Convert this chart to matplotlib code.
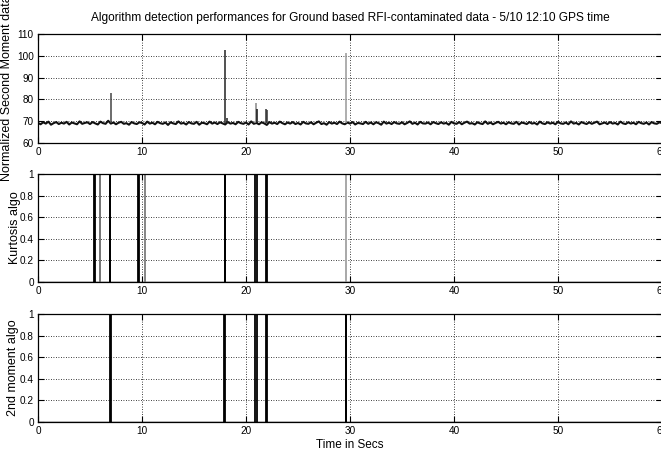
import numpy as np
import matplotlib
matplotlib.use('Agg')
import matplotlib.pyplot as plt

plt.rcParams['font.family'] = ['Liberation Sans', 'DejaVu Sans']

# === data
title = 'Algorithm detection performances for Ground based RFI-contaminated data - 5/10 12:10 GPS time'
ylabels = ['Normalized Second Moment data', 'Kurtosis algo', '2nd moment algo']
xlabel = 'Time in Secs'

# normalized second moment, background samples every 0.25 s (0 .. 60 s)
moment_base = [
    69.2, 68.6, 69.5, 68.9, 69.8, 68.4, 69.1, 69.6, 68.7, 69.3, 68.9, 69.7, 68.5, 69.4, 69.0, 68.6, 69.9, 68.8, 69.2, 69.5,
    68.7, 69.6, 69.0, 68.5, 69.8, 69.1, 68.8, 70.2, 68.9, 69.4, 68.6, 69.3, 69.7, 68.8, 69.1, 68.4, 69.6, 69.0, 68.7, 69.5,
    69.2, 68.5, 69.8, 68.9, 69.3, 68.6, 69.7, 69.1, 68.8, 69.4, 68.3, 69.5, 69.0, 68.7, 69.9, 68.9, 69.2, 68.5, 69.6, 69.0,
    68.8, 69.7, 68.4, 69.3, 69.1, 68.6, 69.8, 68.9, 69.4, 68.7, 69.5, 69.0, 68.5, 69.6, 68.9, 69.2, 68.6, 69.7, 69.1, 68.8,
    69.4, 68.5, 69.9, 68.8, 69.2, 68.6, 69.5, 69.0, 68.3, 69.6, 68.9, 69.3, 68.7, 69.8, 69.1, 68.6, 69.4, 68.9, 69.6, 68.7,
    69.2, 68.5, 69.7, 69.0, 68.8, 69.5, 68.6, 69.3, 69.9, 68.7, 69.1, 68.4, 69.6, 68.9, 69.3, 68.7, 69.8, 69.0, 68.6, 69.4,
    68.9, 69.6, 68.5, 69.2, 69.0, 68.7, 69.7, 68.8, 69.4, 68.6, 69.5, 69.1, 68.4, 69.8, 68.9, 69.3, 68.7, 69.6, 69.0, 68.8,
    69.5, 68.6, 69.2, 69.9, 68.8, 69.3, 68.5, 69.7, 69.0, 68.9, 69.4, 68.6, 69.6, 69.1, 68.7, 69.5, 68.9, 69.2, 68.4, 69.7,
    69.0, 68.8, 69.6, 68.6, 69.3, 69.8, 68.9, 69.1, 68.5, 69.5, 69.0, 68.7, 69.9, 68.8, 69.4, 68.6, 69.2, 69.7, 68.9, 69.3,
    68.6, 69.5, 69.0, 68.8, 69.7, 68.5, 69.4, 69.1, 68.7, 69.6, 68.9, 69.2, 68.5, 69.8, 69.0, 68.7, 69.5, 68.9, 69.3, 68.6,
    69.7, 69.0, 68.8, 69.4, 68.6, 69.9, 68.9, 69.2, 68.5, 69.6, 69.1, 68.7, 69.5, 68.8, 69.3, 69.8, 68.6, 69.0, 69.4, 68.7,
    69.6, 68.9, 69.2, 68.5, 69.8, 69.0, 68.7, 69.5, 68.9, 69.3, 68.6, 69.7, 69.1, 68.8, 69.4, 68.5, 69.6, 69.0, 68.8, 69.5,
    69.1,
]
moment_time = np.linspace(0, 60, len(moment_base))

# RFI spikes in the second moment data
spike_t = [7.0, 18.0, 18.15, 20.95, 21.05, 21.95, 22.02, 29.65]
spike_peak = [83.0, 102.5, 71.5, 78.5, 75.5, 75.5, 75.0, 101.5]
spike_col = ['#444444', '#222222', '#222222', '#888888', '#111111', '#333333', '#333333', '#999999']

# detection flags (pulse start, pulse end) in seconds
kurt_start = [5.42, 5.94, 6.92, 9.66, 10.28, 17.95, 20.90, 21.97, 29.58]
kurt_end = [5.52, 5.98, 6.97, 9.72, 10.32, 18.00, 21.02, 22.02, 29.66]
kurt_col = ['k', '#777777', 'k', 'k', '#888888', 'k', 'k', 'k', '#aaaaaa']

mom_start = [6.90, 17.93, 20.88, 21.97, 29.58]
mom_end = [6.98, 18.00, 21.05, 22.03, 29.66]
mom_col = ['k', 'k', 'k', 'k', 'k']


def style_axes(ax, ylim, yticks):
    ax.set_xlim(0, 60)
    ax.set_ylim(ylim)
    ax.set_xticks([0, 10, 20, 30, 40, 50, 60])
    ax.set_yticks(yticks)
    ax.grid(True, linestyle=(0, (1, 2)), color='k', linewidth=0.6)
    ax.tick_params(direction='in', top=True, right=True, length=4, labelsize=7.2, pad=3)
    for s in ax.spines.values():
        s.set_linewidth(0.9)


def draw_pulses(ax, starts, ends, cols):
    ax.plot([0, 60], [0, 0], color='k', linewidth=1)
    for a, b, c in zip(starts, ends, cols):
        ax.plot([a, a, b, b], [0, 1, 1, 0], color=c, linewidth=1.3)


fig = plt.figure(figsize=(6.61, 4.53), dpi=100)
left, width = 38 / 661, 624 / 661
ax1 = fig.add_axes([left, 1 - 143 / 453, width, 109 / 453])
ax2 = fig.add_axes([left, 1 - 282 / 453, width, 108 / 453])
ax3 = fig.add_axes([left, 1 - 422 / 453, width, 108 / 453])

# top: second moment data
ax1.plot(moment_time, moment_base, color='#111111', linewidth=1.5)
ax1.vlines(spike_t, 69, spike_peak, colors=spike_col, linewidth=1.1)
style_axes(ax1, (60, 110), [60, 70, 80, 90, 100, 110])
ax1.set_title(title, fontsize=8.6, pad=9)

# middle: kurtosis detection
draw_pulses(ax2, kurt_start, kurt_end, kurt_col)
style_axes(ax2, (0, 1), [0, 0.2, 0.4, 0.6, 0.8, 1])

# bottom: 2nd moment detection
draw_pulses(ax3, mom_start, mom_end, mom_col)
style_axes(ax3, (0, 1), [0, 0.2, 0.4, 0.6, 0.8, 1])
ax3.set_xlabel(xlabel, fontsize=8.5, labelpad=2)

label_x = [-0.040, -0.028, -0.030]
for ax, lab, lx in zip([ax1, ax2, ax3], ylabels, label_x):
    ax.set_ylabel(lab, fontsize=9)
    ax.yaxis.set_label_coords(lx, 0.5)
    ax.yaxis.set_major_formatter(matplotlib.ticker.FuncFormatter(lambda v, p: ('%g' % v)))

fig.savefig('out.png', dpi=100)
